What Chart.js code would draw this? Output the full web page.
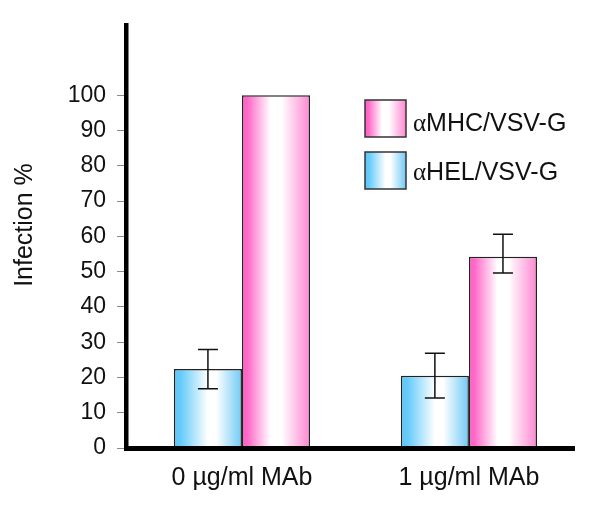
<!DOCTYPE html>
<html>
<head>
<meta charset="utf-8">
<script src="https://cdn.jsdelivr.net/npm/chart.js@4.4.0/dist/chart.umd.min.js"></script>
<style>
  html, body { margin: 0; padding: 0; background: #fff; }
  canvas { display: block; }
</style>
</head>
<body>
<canvas id="chart" width="600" height="510"></canvas>
<script>
// data
const categories = ["0 µg/ml MAb", "1 µg/ml MAb"];
const helName = "αHEL/VSV-G";
const mhcName = "αMHC/VSV-G";
const helValues = [22.4, 20.5];
const helErrLow = [16.8, 14.2];
const helErrHigh = [27.9, 26.9];
const mhcValues = [100, 54.2];
const mhcErrLow = [null, 49.6];
const mhcErrHigh = [null, 60.6];
const yTicks = [0, 10, 20, 30, 40, 50, 60, 70, 80, 90, 100];
const yTitle = "Infection %";

const SANS = "'Liberation Sans', Arial, sans-serif";
const SERIF = "'Liberation Serif', 'Times New Roman', serif";

const blueStops = [[0, "#5cc5f7"], [0.1, "#66cbfa"], [0.5, "#ffffff"], [0.62, "#ffffff"], [1, "#70c9f5"]];
const pinkStops = [[0, "#ff5fc4"], [0.08, "#ff68c8"], [0.42, "#ffffff"], [0.58, "#ffffff"], [1, "#ff86d1"]];

function hGrad(ctx, x0, x1, stops) {
  const g = ctx.createLinearGradient(x0, 0, x1, 0);
  stops.forEach(s => g.addColorStop(s[0], s[1]));
  return g;
}

// points on a numeric x axis so the groups can sit off-centre like the original
const toPoints = vals => vals.map((v, i) => ({ x: i, y: v }));

// gradient fill per bar, worked out from where the bar ended up
const barGradients = {
  id: "barGradients",
  beforeDatasetsDraw(chart) {
    chart.data.datasets.forEach((ds, i) => {
      chart.getDatasetMeta(i).data.forEach(el => {
        const { x, width } = el.getProps(["x", "width"], true);
        const grad = hGrad(chart.ctx, x - width / 2, x + width / 2, ds.gradStops);
        el.options = Object.assign({}, el.options, { backgroundColor: grad });
      });
    });
  }
};

const errorBars = {
  id: "errorBars",
  afterDatasetsDraw(chart) {
    const ctx = chart.ctx;
    const y = chart.scales.y;
    ctx.save();
    ctx.strokeStyle = "#111";
    ctx.lineWidth = 1.5;
    chart.data.datasets.forEach((ds, i) => {
      chart.getDatasetMeta(i).data.forEach((el, j) => {
        const lo = ds.errLow[j], hi = ds.errHigh[j];
        if (lo == null || hi == null) return;
        const x = el.x;
        const y1 = y.getPixelForValue(lo), y2 = y.getPixelForValue(hi);
        ctx.beginPath();
        ctx.moveTo(x, y1); ctx.lineTo(x, y2);
        ctx.moveTo(x - 10, y1); ctx.lineTo(x + 10, y1);
        ctx.moveTo(x - 10, y2); ctx.lineTo(x + 10, y2);
        ctx.stroke();
      });
    });
    ctx.restore();
  }
};

// legend boxes on the right (pink entry first) and the y title
const sideLegend = {
  id: "sideLegend",
  afterDraw(chart) {
    const ctx = chart.ctx;
    const items = [
      { name: mhcName, stops: pinkStops, top: 100, base: 131 },
      { name: helName, stops: blueStops, top: 152, base: 179.5 }
    ];
    ctx.save();
    items.forEach(it => {
      const bx = 365, bw = 41, bh = 37;
      ctx.fillStyle = hGrad(ctx, bx, bx + bw, it.stops);
      ctx.fillRect(bx, it.top, bw, bh);
      ctx.strokeStyle = "#333";
      ctx.lineWidth = 1.5;
      ctx.strokeRect(bx, it.top, bw, bh);
      ctx.fillStyle = "#111";
      ctx.textBaseline = "alphabetic";
      ctx.textAlign = "left";
      ctx.font = "25px " + SERIF;
      const a = it.name.charAt(0);
      ctx.fillText(a, 413, it.base);
      const aw = ctx.measureText(a).width;
      ctx.font = "25px " + SANS;
      ctx.fillText(it.name.slice(1), 413 + aw, it.base);
    });

    ctx.translate(25, 225);
    ctx.rotate(-Math.PI / 2);
    ctx.textAlign = "center";
    ctx.textBaseline = "middle";
    ctx.font = "25px " + SANS;
    ctx.fillText(yTitle, 0, 0);
    ctx.restore();
  }
};

new Chart(document.getElementById("chart"), {
  type: "bar",
  data: {
    datasets: [
      {
        label: helName,
        data: toPoints(helValues),
        errLow: helErrLow,
        errHigh: helErrHigh,
        gradStops: blueStops,
        backgroundColor: "#66cbfa",
        borderColor: "#222",
        borderWidth: 1.5
      },
      {
        label: mhcName,
        data: toPoints(mhcValues),
        errLow: mhcErrLow,
        errHigh: mhcErrHigh,
        gradStops: pinkStops,
        backgroundColor: "#ff68c8",
        borderColor: "#222",
        borderWidth: 1.5
      }
    ]
  },
  options: {
    responsive: false,
    animation: false,
    categoryPercentage: 0.6,
    barPercentage: 1,
    layout: { padding: { top: 22, right: 26, left: 0, bottom: 0 } },
    plugins: {
      legend: { display: false },
      tooltip: { enabled: false }
    },
    scales: {
      x: {
        type: "linear",
        min: -0.511,
        max: 1.463,
        offset: false,
        afterBuildTicks: s => { s.ticks = categories.map((c, i) => ({ value: i })); },
        afterFit: s => { s.height = 62; },
        grid: { drawOnChartArea: false, drawTicks: false },
        border: { display: true, color: "#000", width: 5, z: 1 },
        ticks: {
          color: "#111",
          font: { family: SANS, size: 25 },
          padding: 15,
          autoSkip: false,
          maxRotation: 0,
          callback: v => categories[v]
        }
      },
      y: {
        min: 0,
        max: 120,
        afterBuildTicks: s => { s.ticks = yTicks.map(v => ({ value: v })); },
        afterFit: s => { s.width = 126; },
        grid: { drawOnChartArea: false, color: "#8a8a8a", lineWidth: 1, tickLength: 9 },
        border: { display: true, color: "#000", width: 4.5, z: 1 },
        ticks: { color: "#111", font: { family: SANS, size: 23 }, padding: 11 }
      }
    }
  },
  plugins: [barGradients, errorBars, sideLegend]
});
</script>
</body>
</html>
